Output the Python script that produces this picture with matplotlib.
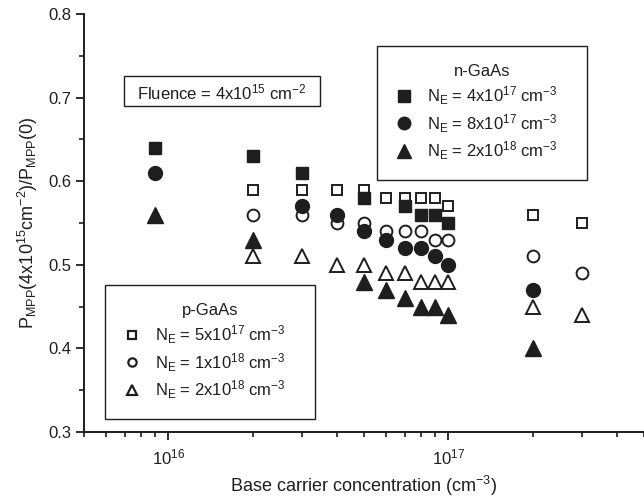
import matplotlib
matplotlib.use("Agg")
import matplotlib.pyplot as plt
from matplotlib.patches import Rectangle
from matplotlib.lines import Line2D
from matplotlib.ticker import MultipleLocator, LogLocator, NullFormatter

plt.rcParams['font.family'] = ['Liberation Sans', 'DejaVu Sans']
plt.rcParams['mathtext.default'] = 'regular'

ink = '#1e1e1e'

# n-GaAs (filled markers)
n_sq_x = [9e15, 2e16, 3e16, 5e16, 7e16, 8e16, 9e16, 1e17]
n_sq_y = [0.64, 0.63, 0.61, 0.58, 0.57, 0.56, 0.56, 0.55]
n_ci_x = [9e15, 3e16, 4e16, 5e16, 6e16, 7e16, 8e16, 9e16, 1e17, 2e17]
n_ci_y = [0.61, 0.57, 0.56, 0.54, 0.53, 0.52, 0.52, 0.51, 0.50, 0.47]
n_tr_x = [9e15, 2e16, 5e16, 6e16, 7e16, 8e16, 9e16, 1e17, 2e17]
n_tr_y = [0.56, 0.53, 0.48, 0.47, 0.46, 0.45, 0.45, 0.44, 0.40]

# p-GaAs (open markers)
p_x = [2e16, 3e16, 4e16, 5e16, 6e16, 7e16, 8e16, 9e16, 1e17, 2e17, 3e17]
p_sq_y = [0.59, 0.59, 0.59, 0.59, 0.58, 0.58, 0.58, 0.58, 0.57, 0.56, 0.55]
p_ci_y = [0.56, 0.56, 0.55, 0.55, 0.54, 0.54, 0.54, 0.53, 0.53, 0.51, 0.49]
p_tr_y = [0.51, 0.51, 0.50, 0.50, 0.49, 0.49, 0.48, 0.48, 0.48, 0.45, 0.44]

n_labels = ['$N_E$ = 4x10$^{17}$ cm$^{-3}$', '$N_E$ = 8x10$^{17}$ cm$^{-3}$', '$N_E$ = 2x10$^{18}$ cm$^{-3}$']
p_labels = ['$N_E$ = 5x10$^{17}$ cm$^{-3}$', '$N_E$ = 1x10$^{18}$ cm$^{-3}$', '$N_E$ = 2x10$^{18}$ cm$^{-3}$']

fig = plt.figure(figsize=(6.44, 5.0), dpi=100)
ax = fig.add_axes([84/644, 68/500, 1 - 84/644, (432 - 14)/500])

# open (p-type) first, filled on top
op = dict(linestyle='none', mfc='white', mec=ink, mew=1.4)
ax.plot(p_x, p_sq_y, marker='s', ms=7.5, **op)
ax.plot(p_x, p_ci_y, marker='o', ms=8.5, **op)
ax.plot(p_x, p_tr_y, marker='^', ms=10.5, **op)

fl = dict(linestyle='none', color=ink, mec=ink)
ax.plot(n_sq_x, n_sq_y, marker='s', ms=8, **fl)
ax.plot(n_ci_x, n_ci_y, marker='o', ms=10, **fl)
ax.plot(n_tr_x, n_tr_y, marker='^', ms=11, **fl)

ax.set_xscale('log')
ax.set_xlim(5e15, 5e17)
ax.set_ylim(0.3, 0.8)
ax.yaxis.set_major_locator(MultipleLocator(0.1))
ax.yaxis.set_minor_locator(MultipleLocator(0.05))
ax.xaxis.set_minor_locator(LogLocator(base=10, subs=range(2, 10)))
ax.xaxis.set_minor_formatter(NullFormatter())

for s in ['top', 'right']:
    ax.spines[s].set_visible(False)
for s in ['left', 'bottom']:
    ax.spines[s].set_linewidth(1.4)
    ax.spines[s].set_color(ink)
ax.tick_params(which='major', length=6, width=1.3, color=ink, labelsize=12, labelcolor=ink, pad=3)
ax.tick_params(which='minor', length=3.5, width=1.2, color=ink)
ax.tick_params(axis='x', which='major', pad=5)

ax.set_xlabel('Base carrier concentration (cm$^{-3}$)', fontsize=13, color=ink, labelpad=5)
ax.set_ylabel('P$_{MPP}$(4x10$^{15}$cm$^{-2}$)/P$_{MPP}$(0)', fontsize=13, color=ink, labelpad=6)

# fluence box
fig.patches.append(Rectangle((124/644, 1 - 106/500), 196/644, 30/500, transform=fig.transFigure,
                             fill=False, ec=ink, lw=1.0))
fig.text(222/644, 1 - 92/500, 'Fluence = 4x10$^{15}$ cm$^{-2}$', ha='center', va='center',
         fontsize=12, color=ink)

def mk(m, filled, ms):
    if filled:
        return Line2D([], [], linestyle='none', marker=m, ms=ms, color=ink)
    return Line2D([], [], linestyle='none', marker=m, ms=ms, mfc='white', mec=ink, mew=1.6)

leg_kw = dict(frameon=True, fancybox=False, framealpha=1, edgecolor=ink, fontsize=12,
              title_fontsize=12, handlelength=1.0, handletextpad=0.9, labelspacing=0.3,
              borderpad=1.1, borderaxespad=0, mode='expand')
n_leg = fig.legend([mk('s', True, 8), mk('o', True, 9), mk('^', True, 10)], n_labels,
                   title='n-GaAs', loc='upper left',
                   bbox_to_anchor=(377/644, 1 - 46/500, 210/644, 0), **leg_kw)
p_leg = fig.legend([mk('s', False, 6), mk('o', False, 6), mk('^', False, 7)], p_labels,
                   title='p-GaAs', loc='upper left',
                   bbox_to_anchor=(105/644, 1 - 285/500, 210/644, 0), **leg_kw)
for lg in (n_leg, p_leg):
    lg.get_frame().set_linewidth(1.0)
    lg.get_title().set_color(ink)
    for t in lg.get_texts():
        t.set_color(ink)

fig.savefig('out.png', dpi=100)
